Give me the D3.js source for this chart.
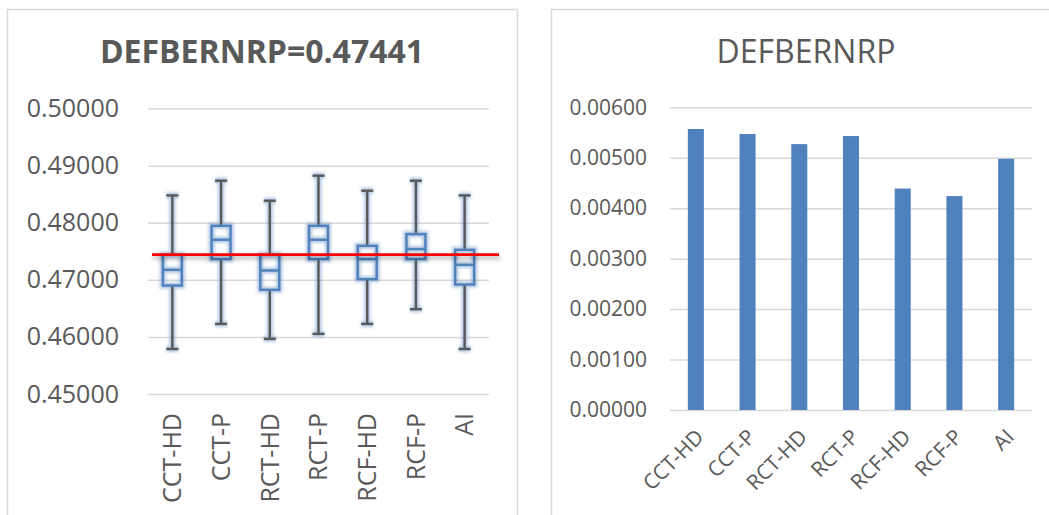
<!DOCTYPE html>
<html>
<head>
<meta charset="utf-8">
<script src="https://cdn.jsdelivr.net/npm/d3@7"></script>
<style>
  body { margin: 0; background: #fff; }
  svg { display: block; }
  text { font-family: "Open Sans", sans-serif; fill: #595959; }
</style>
</head>
<body>
<svg id="chart" width="1049" height="515"></svg>
<script>
// Estimators compared in both panels
const categories = ["CCT-HD", "CCT-P", "RCT-HD", "RCT-P", "RCF-HD", "RCF-P", "AI"];

// Box-plot summary of the estimates (left panel)
const whiskerLow  = [0.45789, 0.46228, 0.45965, 0.46053, 0.46228, 0.46486, 0.45789];
const quartile1   = [0.46900, 0.47363, 0.46825, 0.47363, 0.47012, 0.47363, 0.46918];
const medianValue = [0.47175, 0.47702, 0.47164, 0.47702, 0.47363, 0.47539, 0.47263];
const quartile3   = [0.47439, 0.47947, 0.47439, 0.47947, 0.47596, 0.47801, 0.47526];
const whiskerHigh = [0.48479, 0.48737, 0.48386, 0.48825, 0.48561, 0.48737, 0.48479];
const trueValue = 0.47441;
const boxTicks = [0.45, 0.46, 0.47, 0.48, 0.49, 0.50];

// Error of each estimator (right panel)
const errorValues = [0.00557, 0.00547, 0.00527, 0.00543, 0.00439, 0.00424, 0.00498];
const barTicks = [0, 0.001, 0.002, 0.003, 0.004, 0.005, 0.006];

const svg = d3.select("#chart");
const grid = "#d9d9d9";
const blue = "#4f81bd";
const fmt = d3.format(".5f");

// Soft halo used around the box strokes
const defs = svg.append("defs");
const glow = defs.append("filter").attr("id", "glow")
  .attr("x", "-50%").attr("y", "-50%").attr("width", "200%").attr("height", "200%");
glow.append("feGaussianBlur").attr("stdDeviation", 1.6);
// Shadow under the reference line (user-space region, the line has no height)
const shadow = defs.append("filter").attr("id", "shadow")
  .attr("filterUnits", "userSpaceOnUse")
  .attr("x", 130).attr("y", 220).attr("width", 400).attr("height", 70);
shadow.append("feDropShadow").attr("dx", 1).attr("dy", 3).attr("stdDeviation", 2)
  .attr("flood-color", "#000").attr("flood-opacity", 0.35);

// Panel frames
svg.append("rect").attr("x", 7.5).attr("y", 9.5).attr("width", 510).attr("height", 540)
  .attr("fill", "none").attr("stroke", grid).attr("stroke-width", 1.5);
svg.append("rect").attr("x", 551.5).attr("y", 9.5).attr("width", 540).attr("height", 540)
  .attr("fill", "none").attr("stroke", grid).attr("stroke-width", 1.5);

// ---------- Left panel: box plots ----------
const yBox = d3.scaleLinear().domain([0.45, 0.50]).range([394, 108.6]);
const xBox = d3.scaleBand().domain(categories).range([148, 489]);

svg.append("text").attr("x", 262).attr("y", 63).attr("text-anchor", "middle")
  .style("font-size", "32px").style("font-weight", "bold")
  .text("DEFBERNRP=" + trueValue);

const leftAxis = svg.append("g").attr("transform", "translate(148,0)")
  .call(d3.axisLeft(yBox).tickValues(boxTicks).tickFormat(fmt)
    .tickSize(-(489 - 148)).tickPadding(29));
leftAxis.select(".domain").remove();
leftAxis.selectAll("line").attr("stroke", grid).attr("stroke-width", 1.5);
leftAxis.selectAll("text").style("font-size", "25px").style("font-family", "'Open Sans', sans-serif")
  .attr("fill", "#595959");

svg.append("g").selectAll("text").data(categories).join("text")
  .attr("transform", d => `translate(${xBox(d) + xBox.bandwidth() / 2},413) rotate(-90)`)
  .attr("text-anchor", "end").attr("dy", "0.35em")
  .style("font-size", "25px").text(d => d);

const boxes = categories.map((c, i) => ({
  c, lo: whiskerLow[i], q1: quartile1[i], med: medianValue[i], q3: quartile3[i], hi: whiskerHigh[i]
}));
const boxW = 19, capW = 12;
const cx = d => xBox(d.c) + xBox.bandwidth() / 2;

function drawBoxes(layer, boxStroke, whiskStroke, width, opacity) {
  const g = layer.selectAll("g").data(boxes).join("g").attr("opacity", opacity);
  // whisker stems and caps
  g.append("line").attr("x1", cx).attr("x2", cx).attr("y1", d => yBox(d.hi)).attr("y2", d => yBox(d.q3))
    .attr("stroke", whiskStroke).attr("stroke-width", width);
  g.append("line").attr("x1", cx).attr("x2", cx).attr("y1", d => yBox(d.q1)).attr("y2", d => yBox(d.lo))
    .attr("stroke", whiskStroke).attr("stroke-width", width);
  g.append("line").attr("x1", d => cx(d) - capW / 2).attr("x2", d => cx(d) + capW / 2)
    .attr("y1", d => yBox(d.hi)).attr("y2", d => yBox(d.hi))
    .attr("stroke", whiskStroke).attr("stroke-width", width);
  g.append("line").attr("x1", d => cx(d) - capW / 2).attr("x2", d => cx(d) + capW / 2)
    .attr("y1", d => yBox(d.lo)).attr("y2", d => yBox(d.lo))
    .attr("stroke", whiskStroke).attr("stroke-width", width);
  // box and median
  g.append("rect").attr("x", d => cx(d) - boxW / 2).attr("width", boxW)
    .attr("y", d => yBox(d.q3)).attr("height", d => yBox(d.q1) - yBox(d.q3))
    .attr("fill", "none").attr("stroke", boxStroke).attr("stroke-width", width);
  g.append("line").attr("x1", d => cx(d) - boxW / 2).attr("x2", d => cx(d) + boxW / 2)
    .attr("y1", d => yBox(d.med)).attr("y2", d => yBox(d.med))
    .attr("stroke", boxStroke).attr("stroke-width", width);
}

drawBoxes(svg.append("g").attr("filter", "url(#glow)"), blue, blue, 6, 0.45);
drawBoxes(svg.append("g"), blue, "#595959", 2.4, 1);

// reference line at the true parameter value
svg.append("line").datum(trueValue)
  .attr("x1", 152).attr("x2", 499)
  .attr("y1", d => yBox(d)).attr("y2", d => yBox(d))
  .attr("stroke", "#ff0000").attr("stroke-width", 2.6).attr("filter", "url(#shadow)");

// ---------- Right panel: bar chart ----------
const yBar = d3.scaleLinear().domain([0, 0.006]).range([410, 107.3]);
const xBar = d3.scaleBand().domain(categories).range([670, 1032]).paddingInner(0.69).paddingOuter(0.345);

svg.append("text").attr("x", 806).attr("y", 63).attr("text-anchor", "middle")
  .style("font-size", "32px").text("DEFBERNRP");

const rightAxis = svg.append("g").attr("transform", "translate(670,0)")
  .call(d3.axisLeft(yBar).tickValues(barTicks).tickFormat(fmt)
    .tickSize(-(1032 - 670)).tickPadding(23));
rightAxis.select(".domain").remove();
rightAxis.selectAll("line").attr("stroke", grid).attr("stroke-width", 1.5);
rightAxis.selectAll("text").style("font-size", "21px").style("font-family", "'Open Sans', sans-serif")
  .attr("fill", "#595959");

svg.append("g").selectAll("rect").data(errorValues).join("rect")
  .attr("x", (d, i) => xBar(categories[i])).attr("width", xBar.bandwidth())
  .attr("y", d => yBar(d)).attr("height", d => yBar(0) - yBar(d))
  .attr("fill", blue);

svg.append("g").selectAll("text").data(categories).join("text")
  .attr("transform", d => `translate(${xBar(d) + xBar.bandwidth() / 2 + 4},433) rotate(-45)`)
  .attr("text-anchor", "end").attr("dy", "0.35em")
  .style("font-size", "21px").text(d => d);
</script>
</body>
</html>
